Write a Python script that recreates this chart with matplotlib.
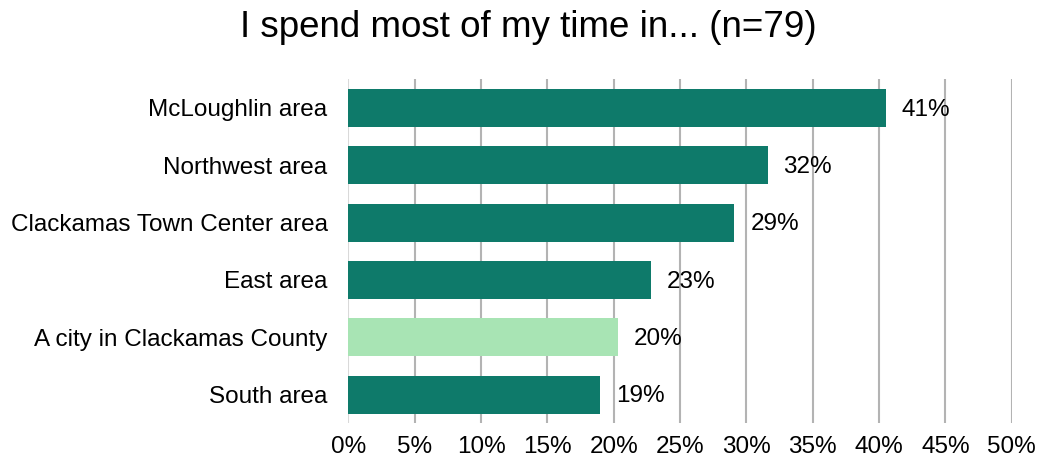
import matplotlib.pyplot as plt
import numpy as np

plt.rcParams['font.family'] = ['Liberation Sans', 'DejaVu Sans']

categories = ['McLoughlin area', 'Northwest area', 'Clackamas Town Center area',
              'East area', 'A city in Clackamas County', 'South area']
values = [40.5, 31.6, 29.1, 22.8, 20.3, 19.0]
labels = ['41%', '32%', '29%', '23%', '20%', '19%']
colors = ['#0E7A6A', '#0E7A6A', '#0E7A6A', '#0E7A6A', '#A8E4B4', '#0E7A6A']
xticks = [0, 5, 10, 15, 20, 25, 30, 35, 40, 45, 50]

fig = plt.figure(figsize=(10.38, 4.66), dpi=100)
ax = fig.add_axes([0.3356, 0.0916, 0.6391, 0.7382])

y = np.arange(len(categories))
ax.barh(y, values, height=0.667, color=colors, zorder=3)
for yi, v, lab in zip(y, values, labels):
    ax.text(v + 1.2, yi + 0.03, lab, va='center', ha='left', fontsize=17.5, color='black')

ax.set_xlim(0, 50)
ax.set_ylim(len(categories) - 0.5, -0.5)
ax.set_yticks(y)
ax.set_yticklabels(categories, fontsize=17.5)
ax.set_xticks(xticks)
ax.set_xticklabels([f'{t}%' for t in xticks], fontsize=17.5)
ax.tick_params(axis='y', length=0, pad=15)
ax.tick_params(axis='x', length=0, pad=9)
for t in xticks:
    ax.axvline(t, color='#D9D9D9' if t == 0 else '#B3B3B3', linewidth=1.5, zorder=1)
for s in ax.spines.values():
    s.set_visible(False)

fig.text(0.509, 0.94, 'I spend most of my time in... (n=79)', ha='center', va='center', fontsize=26.5)

fig.savefig('out.png', dpi=100)
